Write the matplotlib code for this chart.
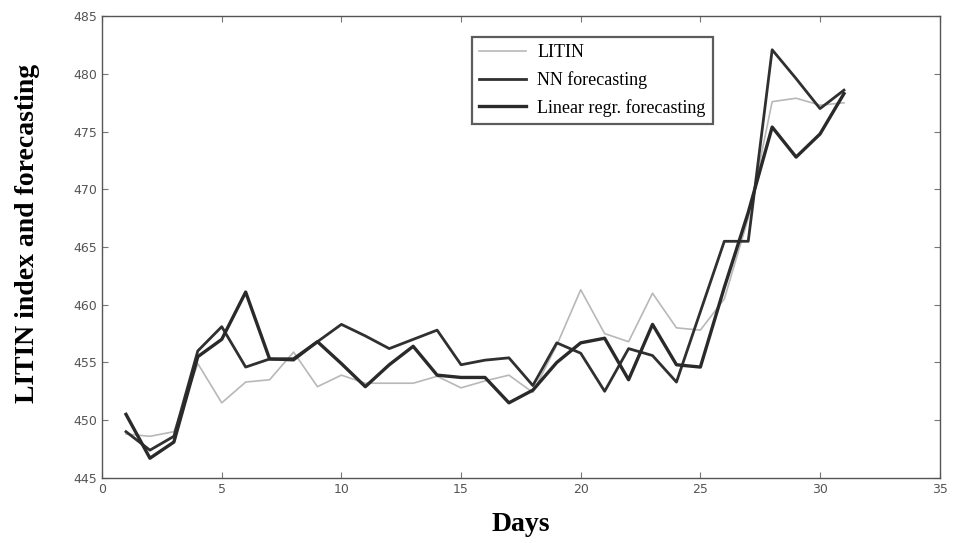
import matplotlib.pyplot as plt
import numpy as np

# daily values, days 1..31
days = list(range(1, 32))
litin = [448.8, 448.6, 449.0, 454.9, 451.5, 453.3, 453.5, 455.9, 452.9, 453.9,
         453.2, 453.2, 453.2, 453.8, 452.8, 453.4, 453.9, 452.4, 456.5, 461.3,
         457.5, 456.8, 461.0, 458.0, 457.8, 460.5, 467.5, 477.6, 477.9, 477.3,
         477.5]
nn_forecast = [449.0, 447.4, 448.6, 456.0, 458.1, 454.6, 455.3, 455.2, 456.8, 458.3,
               457.3, 456.2, 457.0, 457.8, 454.8, 455.2, 455.4, 453.0, 456.7, 455.8,
               452.5, 456.2, 455.6, 453.3, 459.4, 465.5, 465.5, 482.1, 479.6, 477.0,
               478.6]
lr_forecast = [450.5, 446.7, 448.1, 455.5, 457.0, 461.1, 455.3, 455.3, 456.8, 454.9,
               452.9, 454.8, 456.4, 453.9, 453.7, 453.7, 451.5, 452.6, 455.0, 456.7,
               457.1, 453.5, 458.3, 454.8, 454.6, 461.5, 468.0, 475.4, 472.8, 474.8,
               478.3]

fig = plt.figure(figsize=(9.54, 5.43), dpi=100)
ax = fig.add_axes([0.107, 0.12, 0.878, 0.85])

ax.plot(days, litin, color='#b8b8b8', lw=1.2, label='LITIN')
ax.plot(days, nn_forecast, color='#303030', lw=2.0, label='NN forecasting')
ax.plot(days, lr_forecast, color='#2a2a2a', lw=2.4, label='Linear regr. forecasting')

ax.set_xlim(0, 35)
ax.set_ylim(445, 485)
ax.set_xticks(np.arange(0, 36, 5))
ax.set_yticks(np.arange(445, 486, 5))
ax.tick_params(direction='in', top=True, right=True, length=4, width=0.8,
               labelsize=9, labelcolor='#555555', colors='#777777')
for s in ax.spines.values():
    s.set_color('#555555')
    s.set_linewidth(1.0)

ax.set_xlabel('Days', family='Liberation Serif', fontweight='bold', fontsize=20, labelpad=12)
ax.set_ylabel('LITIN index and forecasting', family='Liberation Serif',
              fontweight='bold', fontsize=20)
ax.yaxis.set_label_coords(-0.074, 0.53)

# legend box sits in the upper middle of the plot
leg = ax.legend(loc='upper left', bbox_to_anchor=(0.495, 0.932),
                bbox_transform=fig.transFigure, borderaxespad=0, fancybox=False,
                prop={'family': 'Liberation Serif', 'size': 13}, handlelength=2.6,
                borderpad=0.4, labelspacing=0.55, handletextpad=0.6)
leg.get_frame().set_edgecolor('#333333')
leg.get_frame().set_linewidth(1.6)

fig.savefig('out.png', dpi=100)
